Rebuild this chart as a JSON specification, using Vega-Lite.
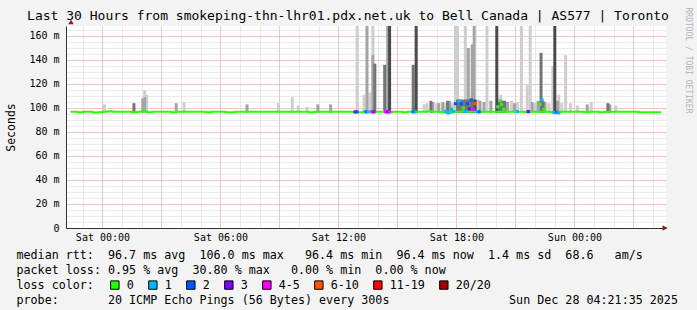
{
  "$schema": "https://vega.github.io/schema/vega-lite/v6.json",
  "width": 600,
  "height": 202,
  "autosize": "none",
  "padding": {"left": 66, "top": 26, "right": 31, "bottom": 82},
  "background": "#f3f3f3",
  "config": {
    "font": "DejaVu Sans Mono",
    "view": {"fill": "#ffffff", "stroke": null},
    "axis": {"labelColor": "#000000", "titleColor": "#000000", "labelFont": "DejaVu Sans Mono", "titleFont": "DejaVu Sans Mono", "titleFontWeight": "normal"}
  },
  "title": {
    "text": "Last 30 Hours from smokeping-thn-lhr01.pdx.net.uk to Bell Canada | AS577 | Toronto",
    "font": "DejaVu Sans Mono", "fontSize": 13, "fontWeight": "normal", "color": "#000000",
    "anchor": "middle", "frame": "group", "dx": -18, "baseline": "alphabetic", "offset": -26
  },
  "datasets": {
    "smoke": [
      {"t": "2025-12-27T00:06:00Z", "lo": 96, "hi": 103, "band": "L"},
      {"t": "2025-12-27T02:09:00Z", "lo": 96, "hi": 115, "band": "L"},
      {"t": "2025-12-27T02:15:00Z", "lo": 96, "hi": 111, "band": "L"},
      {"t": "2025-12-27T04:09:00Z", "lo": 96, "hi": 105, "band": "L"},
      {"t": "2025-12-27T08:57:00Z", "lo": 96, "hi": 104, "band": "L"},
      {"t": "2025-12-27T09:39:00Z", "lo": 96, "hi": 109, "band": "L"},
      {"t": "2025-12-27T09:57:00Z", "lo": 96, "hi": 102, "band": "L"},
      {"t": "2025-12-27T10:24:00Z", "lo": 96, "hi": 101, "band": "L"},
      {"t": "2025-12-27T12:57:00Z", "lo": 96, "hi": 200, "band": "L"},
      {"t": "2025-12-27T13:18:00Z", "lo": 96, "hi": 111, "band": "L"},
      {"t": "2025-12-27T13:36:00Z", "lo": 96, "hi": 113, "band": "L"},
      {"t": "2025-12-27T13:45:00Z", "lo": 96, "hi": 200, "band": "L"},
      {"t": "2025-12-27T16:21:00Z", "lo": 96, "hi": 103, "band": "L"},
      {"t": "2025-12-27T16:30:00Z", "lo": 96, "hi": 104, "band": "L"},
      {"t": "2025-12-27T17:00:00Z", "lo": 96, "hi": 104, "band": "L"},
      {"t": "2025-12-27T17:24:00Z", "lo": 96, "hi": 104, "band": "L"},
      {"t": "2025-12-27T17:48:00Z", "lo": 96, "hi": 104, "band": "L"},
      {"t": "2025-12-27T17:57:00Z", "lo": 96, "hi": 200, "band": "L"},
      {"t": "2025-12-27T18:03:00Z", "lo": 96, "hi": 200, "band": "L"},
      {"t": "2025-12-27T18:27:00Z", "lo": 96, "hi": 200, "band": "L"},
      {"t": "2025-12-27T19:06:00Z", "lo": 96, "hi": 107, "band": "L"},
      {"t": "2025-12-27T19:33:00Z", "lo": 96, "hi": 200, "band": "L"},
      {"t": "2025-12-27T20:15:00Z", "lo": 96, "hi": 111, "band": "L"},
      {"t": "2025-12-27T20:48:00Z", "lo": 96, "hi": 106, "band": "L"},
      {"t": "2025-12-27T21:06:00Z", "lo": 96, "hi": 105, "band": "L"},
      {"t": "2025-12-27T21:18:00Z", "lo": 96, "hi": 200, "band": "L"},
      {"t": "2025-12-27T21:36:00Z", "lo": 96, "hi": 119, "band": "L"},
      {"t": "2025-12-27T21:45:00Z", "lo": 96, "hi": 200, "band": "L"},
      {"t": "2025-12-27T22:00:00Z", "lo": 96, "hi": 104, "band": "L"},
      {"t": "2025-12-27T22:42:00Z", "lo": 96, "hi": 104, "band": "L"},
      {"t": "2025-12-27T22:54:00Z", "lo": 96, "hi": 135, "band": "L"},
      {"t": "2025-12-27T23:12:00Z", "lo": 96, "hi": 111, "band": "L"},
      {"t": "2025-12-27T23:21:00Z", "lo": 96, "hi": 104, "band": "L"},
      {"t": "2025-12-27T23:33:00Z", "lo": 96, "hi": 144, "band": "L"},
      {"t": "2025-12-27T23:48:00Z", "lo": 96, "hi": 104, "band": "L"},
      {"t": "2025-12-28T00:09:00Z", "lo": 96, "hi": 102, "band": "L"},
      {"t": "2025-12-28T00:51:00Z", "lo": 96, "hi": 105, "band": "L"},
      {"t": "2025-12-28T02:06:00Z", "lo": 96, "hi": 102, "band": "L"},
      {"t": "2025-12-27T02:03:00Z", "lo": 96, "hi": 108, "band": "M"},
      {"t": "2025-12-27T02:09:00Z", "lo": 96, "hi": 109, "band": "M"},
      {"t": "2025-12-27T03:45:00Z", "lo": 96, "hi": 104, "band": "M"},
      {"t": "2025-12-27T07:21:00Z", "lo": 96, "hi": 103, "band": "M"},
      {"t": "2025-12-27T10:57:00Z", "lo": 96, "hi": 103, "band": "M"},
      {"t": "2025-12-27T11:36:00Z", "lo": 96, "hi": 103, "band": "M"},
      {"t": "2025-12-27T13:27:00Z", "lo": 96, "hi": 200, "band": "M"},
      {"t": "2025-12-27T13:45:00Z", "lo": 96, "hi": 144, "band": "M"},
      {"t": "2025-12-27T14:30:00Z", "lo": 96, "hi": 200, "band": "M"},
      {"t": "2025-12-27T16:48:00Z", "lo": 96, "hi": 105, "band": "M"},
      {"t": "2025-12-27T17:06:00Z", "lo": 96, "hi": 104, "band": "M"},
      {"t": "2025-12-27T17:18:00Z", "lo": 96, "hi": 105, "band": "M"},
      {"t": "2025-12-27T17:39:00Z", "lo": 96, "hi": 106, "band": "M"},
      {"t": "2025-12-27T18:36:00Z", "lo": 96, "hi": 150, "band": "M"},
      {"t": "2025-12-27T18:48:00Z", "lo": 96, "hi": 153, "band": "M"},
      {"t": "2025-12-27T18:54:00Z", "lo": 96, "hi": 200, "band": "M"},
      {"t": "2025-12-27T19:12:00Z", "lo": 96, "hi": 106, "band": "M"},
      {"t": "2025-12-27T19:24:00Z", "lo": 96, "hi": 105, "band": "M"},
      {"t": "2025-12-27T19:45:00Z", "lo": 96, "hi": 106, "band": "M"},
      {"t": "2025-12-27T20:36:00Z", "lo": 96, "hi": 105, "band": "M"},
      {"t": "2025-12-27T20:57:00Z", "lo": 96, "hi": 104, "band": "M"},
      {"t": "2025-12-27T21:51:00Z", "lo": 96, "hi": 105, "band": "M"},
      {"t": "2025-12-27T22:09:00Z", "lo": 96, "hi": 106, "band": "M"},
      {"t": "2025-12-27T22:30:00Z", "lo": 96, "hi": 105, "band": "M"},
      {"t": "2025-12-27T23:09:00Z", "lo": 96, "hi": 106, "band": "M"},
      {"t": "2025-12-28T00:39:00Z", "lo": 96, "hi": 103, "band": "M"},
      {"t": "2025-12-28T01:48:00Z", "lo": 96, "hi": 103, "band": "M"},
      {"t": "2025-12-27T01:36:00Z", "lo": 96, "hi": 104, "band": "D"},
      {"t": "2025-12-27T13:51:00Z", "lo": 96, "hi": 137, "band": "D"},
      {"t": "2025-12-27T14:21:00Z", "lo": 96, "hi": 136, "band": "D"},
      {"t": "2025-12-27T15:48:00Z", "lo": 96, "hi": 136, "band": "D"},
      {"t": "2025-12-27T16:42:00Z", "lo": 96, "hi": 106, "band": "D"},
      {"t": "2025-12-27T17:33:00Z", "lo": 96, "hi": 106, "band": "D"},
      {"t": "2025-12-27T18:03:00Z", "lo": 96, "hi": 107, "band": "D"},
      {"t": "2025-12-27T18:09:00Z", "lo": 96, "hi": 107, "band": "D"},
      {"t": "2025-12-27T18:15:00Z", "lo": 96, "hi": 107, "band": "D"},
      {"t": "2025-12-27T18:21:00Z", "lo": 96, "hi": 107, "band": "D"},
      {"t": "2025-12-27T18:27:00Z", "lo": 96, "hi": 107, "band": "D"},
      {"t": "2025-12-27T18:33:00Z", "lo": 96, "hi": 107, "band": "D"},
      {"t": "2025-12-27T18:39:00Z", "lo": 96, "hi": 107, "band": "D"},
      {"t": "2025-12-27T18:45:00Z", "lo": 96, "hi": 107, "band": "D"},
      {"t": "2025-12-27T18:51:00Z", "lo": 96, "hi": 107, "band": "D"},
      {"t": "2025-12-27T20:09:00Z", "lo": 96, "hi": 106, "band": "D"},
      {"t": "2025-12-27T20:15:00Z", "lo": 96, "hi": 106, "band": "D"},
      {"t": "2025-12-27T20:21:00Z", "lo": 96, "hi": 106, "band": "D"},
      {"t": "2025-12-27T20:27:00Z", "lo": 96, "hi": 106, "band": "D"},
      {"t": "2025-12-27T22:18:00Z", "lo": 96, "hi": 146, "band": "D"},
      {"t": "2025-12-27T22:24:00Z", "lo": 96, "hi": 106, "band": "D"},
      {"t": "2025-12-28T01:42:00Z", "lo": 96, "hi": 104, "band": "D"},
      {"t": "2025-12-27T14:36:00Z", "lo": 96, "hi": 200, "band": "K"},
      {"t": "2025-12-27T15:57:00Z", "lo": 96, "hi": 200, "band": "K"},
      {"t": "2025-12-27T18:57:00Z", "lo": 96, "hi": 107, "band": "K"},
      {"t": "2025-12-27T20:03:00Z", "lo": 96, "hi": 200, "band": "K"},
      {"t": "2025-12-27T23:00:00Z", "lo": 96, "hi": 200, "band": "K"}
    ],
    "median": [
      {"t": "2025-12-26T22:24:00Z", "rtt": 96.9},
      {"t": "2025-12-26T22:30:00Z", "rtt": 96.9}, {"t": "2025-12-26T22:45:00Z", "rtt": 96.4}, {"t": "2025-12-26T23:00:00Z", "rtt": 96.9}, {"t": "2025-12-26T23:15:00Z", "rtt": 96.9}, {"t": "2025-12-26T23:30:00Z", "rtt": 96.3}, {"t": "2025-12-26T23:45:00Z", "rtt": 96.4},
      {"t": "2025-12-27T00:00:00Z", "rtt": 96.9}, {"t": "2025-12-27T00:15:00Z", "rtt": 97.3}, {"t": "2025-12-27T00:30:00Z", "rtt": 96.8}, {"t": "2025-12-27T00:45:00Z", "rtt": 96.9},
      {"t": "2025-12-27T01:00:00Z", "rtt": 96.9}, {"t": "2025-12-27T01:15:00Z", "rtt": 96.9}, {"t": "2025-12-27T01:30:00Z", "rtt": 96.4}, {"t": "2025-12-27T01:45:00Z", "rtt": 96.9},
      {"t": "2025-12-27T02:00:00Z", "rtt": 97.3}, {"t": "2025-12-27T02:15:00Z", "rtt": 96.4}, {"t": "2025-12-27T02:30:00Z", "rtt": 96.9}, {"t": "2025-12-27T02:45:00Z", "rtt": 96.9},
      {"t": "2025-12-27T03:00:00Z", "rtt": 96.9}, {"t": "2025-12-27T03:15:00Z", "rtt": 96.9}, {"t": "2025-12-27T03:30:00Z", "rtt": 96.4}, {"t": "2025-12-27T03:45:00Z", "rtt": 96.9},
      {"t": "2025-12-27T04:00:00Z", "rtt": 96.9}, {"t": "2025-12-27T04:15:00Z", "rtt": 96.8}, {"t": "2025-12-27T04:30:00Z", "rtt": 96.9}, {"t": "2025-12-27T04:45:00Z", "rtt": 96.9},
      {"t": "2025-12-27T05:00:00Z", "rtt": 96.9}, {"t": "2025-12-27T05:15:00Z", "rtt": 96.4}, {"t": "2025-12-27T05:30:00Z", "rtt": 96.9}, {"t": "2025-12-27T05:45:00Z", "rtt": 96.9},
      {"t": "2025-12-27T06:00:00Z", "rtt": 96.9}, {"t": "2025-12-27T06:15:00Z", "rtt": 96.4}, {"t": "2025-12-27T06:30:00Z", "rtt": 96.4}, {"t": "2025-12-27T06:45:00Z", "rtt": 96.8},
      {"t": "2025-12-27T07:00:00Z", "rtt": 96.9}, {"t": "2025-12-27T07:15:00Z", "rtt": 96.9}, {"t": "2025-12-27T07:30:00Z", "rtt": 96.8}, {"t": "2025-12-27T07:45:00Z", "rtt": 96.9},
      {"t": "2025-12-27T08:00:00Z", "rtt": 96.9}, {"t": "2025-12-27T08:15:00Z", "rtt": 96.8}, {"t": "2025-12-27T08:30:00Z", "rtt": 96.9}, {"t": "2025-12-27T08:45:00Z", "rtt": 96.9},
      {"t": "2025-12-27T09:00:00Z", "rtt": 96.9}, {"t": "2025-12-27T09:15:00Z", "rtt": 96.8}, {"t": "2025-12-27T09:30:00Z", "rtt": 96.9}, {"t": "2025-12-27T09:45:00Z", "rtt": 96.9},
      {"t": "2025-12-27T10:00:00Z", "rtt": 96.9}, {"t": "2025-12-27T10:15:00Z", "rtt": 96.8}, {"t": "2025-12-27T10:30:00Z", "rtt": 96.4}, {"t": "2025-12-27T10:45:00Z", "rtt": 96.9},
      {"t": "2025-12-27T11:00:00Z", "rtt": 96.9}, {"t": "2025-12-27T11:15:00Z", "rtt": 96.9}, {"t": "2025-12-27T11:30:00Z", "rtt": 96.8}, {"t": "2025-12-27T11:45:00Z", "rtt": 96.9},
      {"t": "2025-12-27T12:00:00Z", "rtt": 96.9}, {"t": "2025-12-27T12:15:00Z", "rtt": 96.8}, {"t": "2025-12-27T12:30:00Z", "rtt": 96.9}, {"t": "2025-12-27T12:45:00Z", "rtt": 96.4},
      {"t": "2025-12-27T13:00:00Z", "rtt": 96.4}, {"t": "2025-12-27T13:15:00Z", "rtt": 96.9}, {"t": "2025-12-27T13:30:00Z", "rtt": 96.9}, {"t": "2025-12-27T13:45:00Z", "rtt": 96.9},
      {"t": "2025-12-27T14:00:00Z", "rtt": 96.9}, {"t": "2025-12-27T14:15:00Z", "rtt": 96.9}, {"t": "2025-12-27T14:30:00Z", "rtt": 96.4}, {"t": "2025-12-27T14:45:00Z", "rtt": 96.9},
      {"t": "2025-12-27T15:00:00Z", "rtt": 96.9}, {"t": "2025-12-27T15:15:00Z", "rtt": 96.4}, {"t": "2025-12-27T15:30:00Z", "rtt": 96.9}, {"t": "2025-12-27T15:45:00Z", "rtt": 96.9},
      {"t": "2025-12-27T16:00:00Z", "rtt": 96.9}, {"t": "2025-12-27T16:15:00Z", "rtt": 96.9}, {"t": "2025-12-27T16:30:00Z", "rtt": 97.3}, {"t": "2025-12-27T16:45:00Z", "rtt": 96.9},
      {"t": "2025-12-27T17:00:00Z", "rtt": 96.9}, {"t": "2025-12-27T17:15:00Z", "rtt": 96.4}, {"t": "2025-12-27T17:30:00Z", "rtt": 95.9}, {"t": "2025-12-27T17:45:00Z", "rtt": 96.9},
      {"t": "2025-12-27T18:00:00Z", "rtt": 96.9}, {"t": "2025-12-27T18:15:00Z", "rtt": 97.3}, {"t": "2025-12-27T18:30:00Z", "rtt": 96.9}, {"t": "2025-12-27T18:45:00Z", "rtt": 96.9},
      {"t": "2025-12-27T19:00:00Z", "rtt": 96.9}, {"t": "2025-12-27T19:15:00Z", "rtt": 96.9}, {"t": "2025-12-27T19:30:00Z", "rtt": 96.9}, {"t": "2025-12-27T19:45:00Z", "rtt": 96.9},
      {"t": "2025-12-27T20:00:00Z", "rtt": 96.9}, {"t": "2025-12-27T20:15:00Z", "rtt": 96.9}, {"t": "2025-12-27T20:30:00Z", "rtt": 96.9}, {"t": "2025-12-27T20:45:00Z", "rtt": 96.9},
      {"t": "2025-12-27T21:00:00Z", "rtt": 96.9}, {"t": "2025-12-27T21:15:00Z", "rtt": 96.9}, {"t": "2025-12-27T21:30:00Z", "rtt": 96.4}, {"t": "2025-12-27T21:45:00Z", "rtt": 96.9},
      {"t": "2025-12-27T22:00:00Z", "rtt": 96.9}, {"t": "2025-12-27T22:15:00Z", "rtt": 96.9}, {"t": "2025-12-27T22:30:00Z", "rtt": 96.9}, {"t": "2025-12-27T22:45:00Z", "rtt": 96.4},
      {"t": "2025-12-27T23:00:00Z", "rtt": 96.4}, {"t": "2025-12-27T23:15:00Z", "rtt": 96.9}, {"t": "2025-12-27T23:30:00Z", "rtt": 96.9}, {"t": "2025-12-27T23:45:00Z", "rtt": 96.9},
      {"t": "2025-12-28T00:00:00Z", "rtt": 96.9}, {"t": "2025-12-28T00:15:00Z", "rtt": 96.9}, {"t": "2025-12-28T00:30:00Z", "rtt": 96.4}, {"t": "2025-12-28T00:45:00Z", "rtt": 96.9},
      {"t": "2025-12-28T01:00:00Z", "rtt": 96.9}, {"t": "2025-12-28T01:15:00Z", "rtt": 96.4}, {"t": "2025-12-28T01:30:00Z", "rtt": 96.9}, {"t": "2025-12-28T01:45:00Z", "rtt": 96.9},
      {"t": "2025-12-28T02:00:00Z", "rtt": 96.9}, {"t": "2025-12-28T02:15:00Z", "rtt": 96.9}, {"t": "2025-12-28T02:30:00Z", "rtt": 96.9}, {"t": "2025-12-28T02:45:00Z", "rtt": 96.9},
      {"t": "2025-12-28T03:00:00Z", "rtt": 96.9}, {"t": "2025-12-28T03:15:00Z", "rtt": 96.4}, {"t": "2025-12-28T03:30:00Z", "rtt": 96.4}, {"t": "2025-12-28T03:45:00Z", "rtt": 96.4},
      {"t": "2025-12-28T04:00:00Z", "rtt": 96.4}, {"t": "2025-12-28T04:15:00Z", "rtt": 96.4}, {"t": "2025-12-28T04:24:00Z", "rtt": 96.4}
    ],
    "lossmarks": [
      {"t": "2025-12-27T12:51:00Z", "rtt": 96.8, "loss": "3"},
      {"t": "2025-12-27T12:57:00Z", "rtt": 96.8, "loss": "2"},
      {"t": "2025-12-27T13:24:00Z", "rtt": 96.8, "loss": "2"},
      {"t": "2025-12-27T13:30:00Z", "rtt": 96.8, "loss": "1"},
      {"t": "2025-12-27T13:42:00Z", "rtt": 96.8, "loss": "4-5"},
      {"t": "2025-12-27T13:48:00Z", "rtt": 96.8, "loss": "3"},
      {"t": "2025-12-27T14:24:00Z", "rtt": 96.8, "loss": "4-5"},
      {"t": "2025-12-27T14:30:00Z", "rtt": 96.8, "loss": "3"},
      {"t": "2025-12-27T14:36:00Z", "rtt": 96.8, "loss": "4-5"},
      {"t": "2025-12-27T15:48:00Z", "rtt": 96.8, "loss": "2"},
      {"t": "2025-12-27T15:54:00Z", "rtt": 96.8, "loss": "1"},
      {"t": "2025-12-27T17:27:00Z", "rtt": 97.0, "loss": "1"},
      {"t": "2025-12-27T17:36:00Z", "rtt": 96.0, "loss": "1"},
      {"t": "2025-12-27T17:45:00Z", "rtt": 99.0, "loss": "1"},
      {"t": "2025-12-27T17:51:00Z", "rtt": 97.0, "loss": "1"},
      {"t": "2025-12-27T17:57:00Z", "rtt": 103.6, "loss": "2"},
      {"t": "2025-12-27T18:09:00Z", "rtt": 106.0, "loss": "1"},
      {"t": "2025-12-27T18:15:00Z", "rtt": 103.6, "loss": "2"},
      {"t": "2025-12-27T18:21:00Z", "rtt": 100.0, "loss": "0"},
      {"t": "2025-12-27T18:27:00Z", "rtt": 97.0, "loss": "1"},
      {"t": "2025-12-27T18:33:00Z", "rtt": 103.6, "loss": "2"},
      {"t": "2025-12-27T18:39:00Z", "rtt": 99.4, "loss": "3"},
      {"t": "2025-12-27T18:45:00Z", "rtt": 106.7, "loss": "2"},
      {"t": "2025-12-27T18:51:00Z", "rtt": 99.0, "loss": "4-5"},
      {"t": "2025-12-27T18:57:00Z", "rtt": 103.6, "loss": "6-10"},
      {"t": "2025-12-27T19:03:00Z", "rtt": 97.0, "loss": "1"},
      {"t": "2025-12-27T19:09:00Z", "rtt": 96.8, "loss": "2"},
      {"t": "2025-12-27T20:06:00Z", "rtt": 101.0, "loss": "0"},
      {"t": "2025-12-27T20:12:00Z", "rtt": 106.0, "loss": "0"},
      {"t": "2025-12-27T20:18:00Z", "rtt": 103.0, "loss": "0"},
      {"t": "2025-12-27T20:24:00Z", "rtt": 99.0, "loss": "0"},
      {"t": "2025-12-27T21:06:00Z", "rtt": 97.0, "loss": "1"},
      {"t": "2025-12-27T21:39:00Z", "rtt": 97.0, "loss": "3"},
      {"t": "2025-12-27T22:15:00Z", "rtt": 103.0, "loss": "0"},
      {"t": "2025-12-27T22:21:00Z", "rtt": 106.7, "loss": "1"},
      {"t": "2025-12-27T22:27:00Z", "rtt": 99.0, "loss": "0"},
      {"t": "2025-12-27T22:57:00Z", "rtt": 96.2, "loss": "1"},
      {"t": "2025-12-27T23:06:00Z", "rtt": 96.5, "loss": "2"},
      {"t": "2025-12-27T23:12:00Z", "rtt": 96.0, "loss": "1"}
    ]
  },
  "layer": [
    {
      "data": {"name": "smoke"},
      "mark": {"type": "bar", "width": 3, "clip": true},
      "encoding": {
        "x": {
          "field": "t", "type": "temporal",
          "scale": {"type": "utc", "domain": [{"year": 2025, "month": 12, "date": 26, "hours": 22, "minutes": 24, "utc": true}, {"year": 2025, "month": 12, "date": 28, "hours": 4, "minutes": 24, "utc": true}]},
          "axis": {"orient": "bottom", "grid": true, "gridColor": "#d6d6d6", "gridDash": [1, 1],
            "values": [
              {"year": 2025, "month": 12, "date": 26, "hours": 23, "utc": true},
              {"year": 2025, "month": 12, "date": 27, "hours": 0, "utc": true},
              {"year": 2025, "month": 12, "date": 27, "hours": 1, "utc": true},
              {"year": 2025, "month": 12, "date": 27, "hours": 2, "utc": true},
              {"year": 2025, "month": 12, "date": 27, "hours": 3, "utc": true},
              {"year": 2025, "month": 12, "date": 27, "hours": 4, "utc": true},
              {"year": 2025, "month": 12, "date": 27, "hours": 5, "utc": true},
              {"year": 2025, "month": 12, "date": 27, "hours": 6, "utc": true},
              {"year": 2025, "month": 12, "date": 27, "hours": 7, "utc": true},
              {"year": 2025, "month": 12, "date": 27, "hours": 8, "utc": true},
              {"year": 2025, "month": 12, "date": 27, "hours": 9, "utc": true},
              {"year": 2025, "month": 12, "date": 27, "hours": 10, "utc": true},
              {"year": 2025, "month": 12, "date": 27, "hours": 11, "utc": true},
              {"year": 2025, "month": 12, "date": 27, "hours": 12, "utc": true},
              {"year": 2025, "month": 12, "date": 27, "hours": 13, "utc": true},
              {"year": 2025, "month": 12, "date": 27, "hours": 14, "utc": true},
              {"year": 2025, "month": 12, "date": 27, "hours": 15, "utc": true},
              {"year": 2025, "month": 12, "date": 27, "hours": 16, "utc": true},
              {"year": 2025, "month": 12, "date": 27, "hours": 17, "utc": true},
              {"year": 2025, "month": 12, "date": 27, "hours": 18, "utc": true},
              {"year": 2025, "month": 12, "date": 27, "hours": 19, "utc": true},
              {"year": 2025, "month": 12, "date": 27, "hours": 20, "utc": true},
              {"year": 2025, "month": 12, "date": 27, "hours": 21, "utc": true},
              {"year": 2025, "month": 12, "date": 27, "hours": 22, "utc": true},
              {"year": 2025, "month": 12, "date": 27, "hours": 23, "utc": true},
              {"year": 2025, "month": 12, "date": 28, "hours": 0, "utc": true},
              {"year": 2025, "month": 12, "date": 28, "hours": 1, "utc": true},
              {"year": 2025, "month": 12, "date": 28, "hours": 2, "utc": true},
              {"year": 2025, "month": 12, "date": 28, "hours": 3, "utc": true},
              {"year": 2025, "month": 12, "date": 28, "hours": 4, "utc": true}
            ],
            "labels": false, "ticks": false, "domain": false, "title": null}
        },
        "y": {
          "field": "hi", "type": "quantitative",
          "scale": {"domain": [0, 168.33], "nice": false, "zero": true},
          "axis": {"orient": "left", "grid": true, "gridColor": "#d6d6d6", "gridDash": [1, 1], "values": [5, 10, 15, 20, 25, 30, 35, 40, 45, 50, 55, 60, 65, 70, 75, 80, 85, 90, 95, 100, 105, 110, 115, 120, 125, 130, 135, 140, 145, 150, 155, 160, 165], "labels": false, "ticks": false, "domain": false, "title": null}
        },
        "y2": {"field": "lo"},
        "fill": {"field": "band", "type": "nominal", "scale": {"domain": ["L", "M", "D", "K"], "range": ["#cecece", "#a4a4a4", "#747474", "#4a4a4a"]}, "legend": null}
      }
    },
    {
      "data": {"name": "median"},
      "mark": {"type": "line", "color": "#26ff00", "strokeWidth": 2, "interpolate": "step-after"},
      "encoding": {
        "x": {
          "field": "t", "type": "temporal",
          "axis": {"orient": "bottom", "grid": true, "gridColor": "#f4a0a0", "gridDash": [1, 1],
            "values": [
              {"year": 2025, "month": 12, "date": 27, "hours": 0, "utc": true},
              {"year": 2025, "month": 12, "date": 27, "hours": 3, "utc": true},
              {"year": 2025, "month": 12, "date": 27, "hours": 6, "utc": true},
              {"year": 2025, "month": 12, "date": 27, "hours": 9, "utc": true},
              {"year": 2025, "month": 12, "date": 27, "hours": 12, "utc": true},
              {"year": 2025, "month": 12, "date": 27, "hours": 15, "utc": true},
              {"year": 2025, "month": 12, "date": 27, "hours": 18, "utc": true},
              {"year": 2025, "month": 12, "date": 27, "hours": 21, "utc": true},
              {"year": 2025, "month": 12, "date": 28, "hours": 0, "utc": true},
              {"year": 2025, "month": 12, "date": 28, "hours": 3, "utc": true}
            ],
            "labels": false, "ticks": false, "domain": false, "title": null}
        },
        "y": {
          "field": "rtt", "type": "quantitative",
          "axis": {
            "orient": "left", "grid": true, "gridColor": "#f4a0a0", "gridDash": [1, 1],
            "values": [0, 20, 40, 60, 80, 100, 120, 140, 160],
            "labelExpr": "datum.value == 0 ? '0' : datum.value + ' m'",
            "labelFontSize": 10, "labelPadding": 7, "ticks": false, "tickSize": 0,
            "domain": true, "domainColor": "#333333", "domainWidth": 1,
            "title": "Seconds", "titleFontSize": 11.5, "titleX": -55, "titleY": 101, "titleAngle": 270, "titleAlign": "center", "titleBaseline": "middle"
          }
        }
      }
    },
    {
      "data": {"name": "lossmarks"},
      "mark": {"type": "point", "shape": "square", "filled": true, "size": 10, "opacity": 1},
      "encoding": {
        "x": {
          "field": "t", "type": "temporal",
          "axis": {
            "orient": "bottom", "grid": false,
            "values": [
              {"year": 2025, "month": 12, "date": 27, "hours": 0, "utc": true},
              {"year": 2025, "month": 12, "date": 27, "hours": 6, "utc": true},
              {"year": 2025, "month": 12, "date": 27, "hours": 12, "utc": true},
              {"year": 2025, "month": 12, "date": 27, "hours": 18, "utc": true},
              {"year": 2025, "month": 12, "date": 28, "hours": 0, "utc": true}
            ],
            "labelExpr": "utcFormat(datum.value, '%a %H:%M')", "labelFontSize": 10, "labelPadding": 4,
            "ticks": false, "tickSize": 0, "domain": true, "domainColor": "#333333", "domainWidth": 1,
            "title": [
              "median rtt:\u00a0\u00a096.7 ms avg\u00a0\u00a0106.0 ms max\u00a0\u00a0\u00a096.4 ms min\u00a0\u00a096.4 ms now\u00a0\u00a01.4 ms sd\u00a0\u00a068.6\u00a0\u00a0\u00a0am/s",
              "packet loss: 0.95 % avg\u00a0\u00a030.80 % max\u00a0\u00a0\u00a00.00 % min\u00a0\u00a00.00 % now",
              "loss color:",
              "probe:\u00a0\u00a0\u00a0\u00a0\u00a0\u00a0\u00a020 ICMP Echo Pings (56 Bytes) every 300s\u00a0\u00a0\u00a0\u00a0\u00a0\u00a0\u00a0\u00a0\u00a0\u00a0\u00a0\u00a0\u00a0\u00a0\u00a0\u00a0\u00a0Sun Dec 28 04:21:35 2025"
            ],
            "titleFontSize": 11.7, "titleX": -50, "titleY": 30, "titleAnchor": "start", "titleAlign": "left", "titleBaseline": "alphabetic", "titleLineHeight": 15.3
          }
        },
        "y": {
          "field": "rtt", "type": "quantitative",
          "axis": {
            "orient": "right", "grid": false, "labels": false, "ticks": false, "domain": false,
            "title": "RRDTOOL / TOBI OETIKER", "titleFontSize": 8, "titleColor": "#b4b4b4", "titleAngle": 90,
            "titleX": 21, "titleY": 34, "titleAlign": "center", "titleBaseline": "middle"
          }
        },
        "color": {
          "field": "loss", "type": "nominal",
          "scale": {"domain": ["0", "1", "2", "3", "4-5", "6-10", "11-19", "20/20"], "range": ["#26ff00", "#00b8ff", "#0059ff", "#7e00ff", "#ff00ff", "#ff5500", "#ff0000", "#a10000"]},
          "legend": {
            "orient": "none", "legendX": 43, "legendY": 253, "direction": "horizontal", "columns": 8,
            "title": null, "symbolType": "square", "symbolSize": 70, "symbolStrokeColor": "#000000", "symbolStrokeWidth": 1, "symbolOpacity": 1,
            "labelFont": "DejaVu Sans Mono", "labelFontSize": 11.7, "labelColor": "#000000", "labelOffset": 6, "columnPadding": 12, "padding": 0, "labelLimit": 0
          }
        }
      }
    },
    {
      "data": {"values": [{}]},
      "mark": {"type": "point", "shape": "triangle-right", "filled": true, "color": "#8b1a1a", "size": 30, "opacity": 1, "clip": false, "xOffset": 4},
      "encoding": {
        "x": {"datum": {"year": 2025, "month": 12, "date": 28, "hours": 4, "minutes": 24, "utc": true}, "type": "temporal", "axis": null},
        "y": {"datum": 0, "type": "quantitative", "axis": null}
      }
    },
    {
      "data": {"values": [{}]},
      "mark": {"type": "point", "shape": "triangle-up", "filled": true, "color": "#8b1a1a", "size": 30, "opacity": 1, "clip": false, "yOffset": -4},
      "encoding": {
        "x": {"datum": {"year": 2025, "month": 12, "date": 26, "hours": 22, "minutes": 24, "utc": true}, "type": "temporal", "axis": null},
        "y": {"datum": 168.33, "type": "quantitative", "axis": null}
      }
    }
  ],
  "resolve": {"axis": {"x": "independent", "y": "independent"}}
}
